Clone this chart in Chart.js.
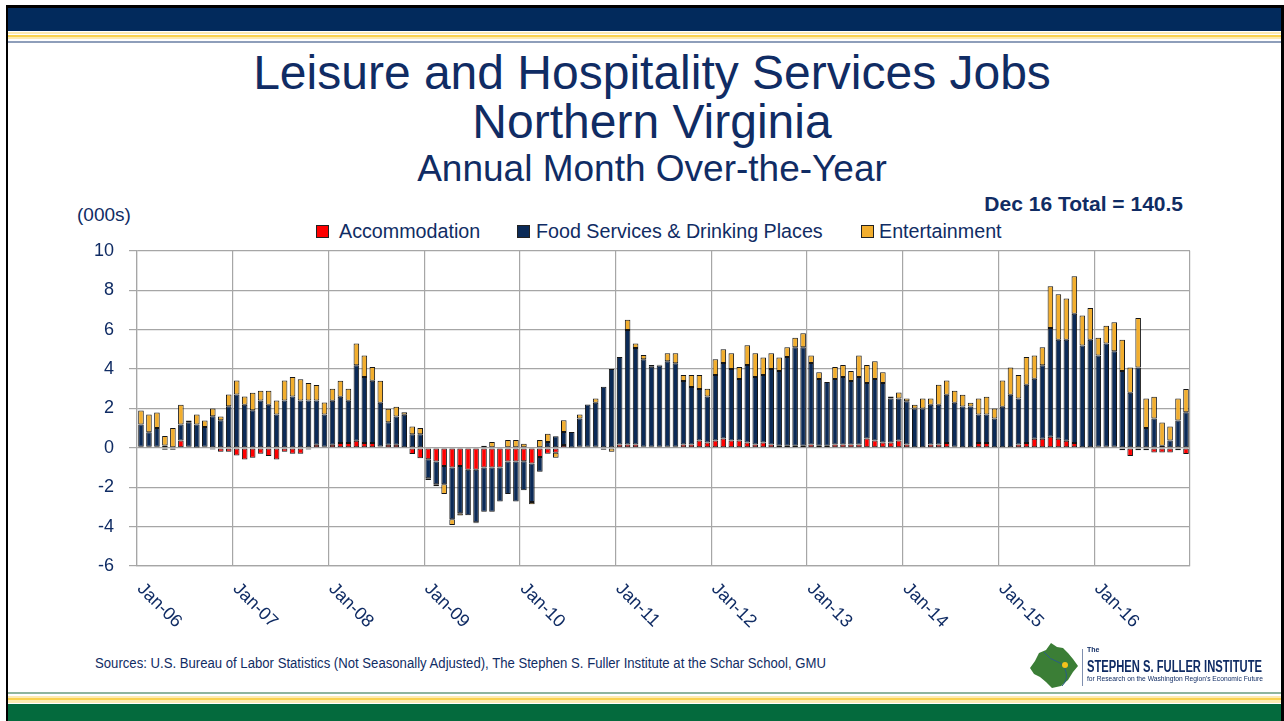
<!DOCTYPE html>
<html>
<head>
<meta charset="utf-8">
<script src="https://cdn.jsdelivr.net/npm/chart.js@4.4.1/dist/chart.umd.min.js"></script>
<style>
  html, body { margin: 0; padding: 0; background: #fff; }
  body { width: 1284px; height: 721px; position: relative; overflow: hidden; font-family: "Liberation Sans", Arial, sans-serif; color: #102C64; }
  .abs { position: absolute; }
  .band { position: absolute; left: 8px; right: 3px; }
  .t { position: absolute; white-space: nowrap; }
  .lg { position: absolute; top: 225px; width: 11px; height: 11px; border: 1px solid #222; }
</style>
</head>
<body>
<!-- frame -->
<div class="abs" style="left:6px;top:5px;width:2px;height:716px;background:#000"></div>
<div class="abs" style="left:6px;top:5px;width:1278px;height:3px;background:#000"></div>
<div class="abs" style="left:1281px;top:5px;width:3px;height:716px;background:#000"></div>
<!-- top band -->
<div class="band" style="top:8px;height:23px;background:#022A5C"></div>
<div class="band" style="top:32px;height:2px;background:#FDEBB2"></div>
<div class="band" style="top:35px;height:2px;background:#F9D24F"></div>
<div class="band" style="top:37px;height:2px;background:#FDEBB2"></div>
<div class="band" style="top:41px;height:2px;background:#8E9EBA"></div>
<!-- bottom band -->
<div class="band" style="top:692px;height:2px;background:#8FB59E"></div>
<div class="band" style="top:696px;height:2px;background:#FDEBB2"></div>
<div class="band" style="top:698px;height:2px;background:#F9D24F"></div>
<div class="band" style="top:700px;height:3px;background:#FDEBB2"></div>
<div class="band" style="top:704px;height:17px;background:#046A3D"></div>

<div class="t" style="left:0;width:1304px;text-align:center;top:49px;font-size:48px;line-height:48px;">Leisure and Hospitality Services Jobs</div>
<div class="t" style="left:0;width:1304px;text-align:center;top:98px;font-size:48px;line-height:48px;">Northern Virginia</div>
<div class="t" style="left:0;width:1304px;text-align:center;top:150px;font-size:37px;line-height:37px;">Annual Month Over-the-Year</div>
<div class="t" style="right:101px;top:193px;font-size:21px;line-height:21px;font-weight:bold;">Dec 16 Total = 140.5</div>
<div class="t" style="left:77px;top:205px;font-size:19px;line-height:19px;">(000s)</div>

<div class="lg" style="left:316px;background:#FF0000"></div>
<div class="t" style="left:339px;top:221px;font-size:19.7px;line-height:20px;">Accommodation</div>
<div class="lg" style="left:517px;background:#0B2A57"></div>
<div class="t" style="left:536px;top:221px;font-size:19.7px;line-height:20px;">Food Services &amp; Drinking Places</div>
<div class="lg" style="left:861px;background:#F2AE2E"></div>
<div class="t" style="left:879px;top:221px;font-size:19.7px;line-height:20px;">Entertainment</div>

<canvas id="c" class="abs" style="left:40px;top:225px;" width="1154" height="425"></canvas>

<div class="t" id="src" style="left:95px;top:656px;font-size:14px;line-height:14px;transform-origin:0 0;">Sources: U.S. Bureau of Labor Statistics (Not Seasonally Adjusted), The Stephen S. Fuller Institute at the Schar School, GMU</div>

<!-- logo -->
<svg class="abs" style="left:0;top:0" width="1284" height="721">
  <polygon points="1030,668 1035,661 1039,653 1046,650 1051,643 1057,647 1063,648 1068,653 1073,659 1078,666 1073,672 1068,680 1061,686 1052,688 1046,682 1040,677 1034,674" fill="#3B7E36"/>
  <path d="M1044,652 Q1050,660 1058,662 Q1064,664 1066,672 Q1068,680 1062,686" stroke="#2A5C86" stroke-width="1" fill="none"/>
  <circle cx="1065" cy="665" r="3" fill="#F3C21C"/>
  <line x1="1082.5" y1="649" x2="1082.5" y2="686" stroke="#7F8FAF" stroke-width="1"/>
</svg>
<div class="t" style="left:1087px;top:646px;font-size:7px;line-height:7px;font-weight:bold;">The</div>
<div class="t" id="lg1" style="left:1087px;top:659px;font-size:16px;line-height:16px;font-weight:bold;transform-origin:0 0;">STEPHEN S. FULLER INSTITUTE</div>
<div class="t" id="lg2" style="left:1087px;top:675px;font-size:8px;line-height:8px;transform-origin:0 0;">for Research on the Washington Region's Economic Future</div>

<script>
// ---- data ----
const years = ['06','07','08','09','10','11','12','13','14','15','16'];
const monthNames = ['Jan','Feb','Mar','Apr','May','Jun','Jul','Aug','Sep','Oct','Nov','Dec'];
const categories = [];
years.forEach(y => monthNames.forEach(m => categories.push(m + '-' + y)));

const accommodation = [
  0.05, 0.05, 0.05, -0.1, 0, 0.37, 0.05, 0.02, 0.05, -0.08, -0.2, -0.2,
  -0.39, -0.6, -0.5, -0.3, -0.42, -0.6, -0.2, -0.3, -0.3, -0.08, 0.15, 0.05,
  0.15, 0.24, 0.24, 0.36, 0.24, 0.24, 0.07, 0.15, 0.15, 0.03, -0.32, -0.53,
  -0.58, -0.7, -0.92, -1.0, -0.92, -1.12, -1.12, -1.0, -1.0, -1.0, -0.7, -0.7,
  -0.68, -0.8, -0.47, -0.3, -0.25, 0.14, 0.02, 0.05, 0.05, 0.05, 0, 0,
  0.17, 0.17, 0.17, 0.05, 0.05, 0.05, 0.05, 0.05, 0.17, 0.17, 0.37, 0.27,
  0.37, 0.47, 0.37, 0.37, 0.27, 0.17, 0.27, 0.17, 0.1, 0.1, 0.1, 0.1,
  0.17, 0.1, 0.1, 0.17, 0.17, 0.17, 0.17, 0.47, 0.37, 0.27, 0.27, 0.37,
  0.17, 0.03, 0.03, 0.17, 0.17, 0.25, 0.05, 0.03, 0.03, 0.25, 0.25, 0.03,
  0.03, 0.03, 0.17, 0.25, 0.46, 0.46, 0.56, 0.46, 0.36, 0.25, 0.03, 0.03,
  0.05, 0.05, 0.05, -0.12, -0.41, -0.12, -0.12, -0.24, -0.24, -0.24, -0.12, -0.32
];
const foodServices = [
  1.13, 0.74, 0.95, 0.12, -0.1, 0.81, 1.25, 1.16, 1.01, 1.6, 1.4, 2.11,
  2.7, 2.19, 1.9, 2.4, 2.19, 1.69, 2.4, 2.6, 2.4, 2.4, 2.25, 1.64,
  2.24, 2.35, 2.15, 3.83, 3.35, 3.16, 2.22, 1.15, 1.44, 1.65, 0.69, 0.69,
  -0.96, -1.15, -0.93, -2.63, -2.4, -2.3, -2.66, -2.24, -2.24, -1.73, -1.64, -2.03,
  -1.47, -1.95, -0.75, 0.29, 0.59, 0.66, 0.78, 1.44, 2.15, 2.24, 3.1, 4.0,
  4.44, 5.81, 4.9, 4.44, 4.07, 4.13, 4.34, 4.24, 3.22, 2.91, 2.61, 2.34,
  3.32, 3.83, 3.63, 3.12, 3.93, 3.42, 3.42, 3.83, 3.8, 4.51, 5.0, 5.0,
  4.13, 3.39, 3.24, 3.32, 3.42, 3.22, 3.42, 2.82, 3.12, 3.02, 2.23, 2.13,
  2.19, 1.97, 1.97, 2.02, 2.02, 2.44, 2.24, 2.07, 2.07, 1.44, 1.44, 1.46,
  2.05, 2.66, 2.33, 2.95, 3.05, 3.73, 5.52, 5.03, 5.13, 6.56, 5.16, 5.46,
  4.63, 5.25, 4.85, 3.9, 2.8, 4.08, 1.0, 1.49, 0.1, 0.37, 1.39, 1.8
];
const entertainment = [
  0.71, 0.9, 0.79, 0.48, 1.0, 1.01, 0.08, 0.51, 0.32, 0.4, 0.19, 0.59,
  0.71, 0.41, 0.9, 0.5, 0.71, 0.71, 1.01, 1.0, 1.08, 0.89, 0.79, 0.61,
  0.61, 0.81, 0.61, 1.1, 1.1, 0.7, 1.11, 0.68, 0.49, 0.12, 0.39, 0.31,
  -0.1, -0.1, -0.49, -0.29, -0.12, 0, -0.05, 0.1, 0.29, 0, 0.39, 0.39,
  0.2, -0.12, 0.39, 0.42, -0.25, 0.6, 0, 0.2, 0, 0.21, -0.1, -0.2,
  0, 0.52, 0.22, 0.22, 0.08, 0.04, 0.41, 0.51, 0.3, 0.61, 0.71, 0.39,
  0.81, 0.7, 0.8, 0.61, 1.0, 1.21, 0.9, 0.8, 0.69, 0.49, 0.49, 0.71,
  0.39, 0.34, 0, 0.61, 0.61, 0.51, 1.1, 0.91, 0.9, 0.54, 0.11, 0.31,
  0.14, 0.19, 0.5, 0.31, 1.01, 0.72, 0.61, 0.59, 0.19, 0.81, 0.9, 0.51,
  1.33, 1.39, 1.19, 1.41, 1.17, 0.91, 2.12, 2.31, 2.09, 1.9, 1.52, 1.61,
  0.91, 0.89, 1.47, 1.59, 1.28, 2.51, 1.5, 1.1, 1.19, 0.71, 1.11, 1.18
];
const yMin = -6, yMax = 10, yStep = 2;

// ---- styling ----
const TEXT = '#102C64';
const GRID = '#A6A6A6';
const FONT = '"Liberation Sans", Arial, sans-serif';

const xLabelPlugin = {
  id: 'xlabels',
  afterDraw(chart) {
    const xs = chart.scales.x, ctx = chart.ctx;
    ctx.save();
    ctx.font = '18px ' + FONT;
    ctx.fillStyle = TEXT;
    ctx.textAlign = 'left';
    ctx.textBaseline = 'middle';
    categories.forEach((lab, i) => {
      if (i % 12 !== 0) return;
      const x = xs.getPixelForValue(i);
      ctx.save();
      ctx.translate(x - 1, chart.chartArea.bottom + 20);
      ctx.rotate(Math.PI / 4);
      ctx.fillText(lab, 0, 0);
      ctx.restore();
    });
    ctx.restore();
  }
};

function ds(label, data, color) {
  return {
    label, data, backgroundColor: color,
    borderColor: '#151515', borderWidth: 1, borderSkipped: false,
    barPercentage: 0.7, categoryPercentage: 1.0
  };
}

new Chart(document.getElementById('c'), {
  type: 'bar',
  data: {
    labels: categories,
    datasets: [
      ds('Accommodation', accommodation, '#FF0000'),
      ds('Food Services & Drinking Places', foodServices, '#0B2A57'),
      ds('Entertainment', entertainment, '#F2AE2E')
    ]
  },
  options: {
    responsive: false,
    animation: false,
    layout: { padding: { top: 0, right: 4, bottom: 0, left: 0 } },
    plugins: { legend: { display: false }, tooltip: { enabled: false } },
    scales: {
      x: {
        stacked: true,
        offset: true,
        ticks: { display: false, autoSkip: false },
        grid: {
          offset: true,
          drawTicks: false,
          lineWidth: 1.2,
          color: (c) => (c.index === undefined || c.index % 12 === 0) ? GRID : 'rgba(0,0,0,0)'
        },
        border: { display: true, color: GRID, width: 1.2 },
        afterFit: (s) => { s.height = 84; }
      },
      y: {
        stacked: true,
        min: yMin, max: yMax,
        ticks: { stepSize: yStep, color: TEXT, font: { family: FONT, size: 18 }, padding: 15,
                 callback: (v) => String(v) },
        grid: { color: GRID, lineWidth: 1.2, tickLength: 8 },
        border: { display: true, color: GRID, width: 1.2 },
        afterFit: (s) => { s.width = 97; }
      }
    }
  },
  plugins: [xLabelPlugin]
});

// fit narrow texts
function fitWidth(id, w) {
  const el = document.getElementById(id);
  const cur = el.getBoundingClientRect().width;
  if (cur > 0) el.style.transform = 'scaleX(' + (w / cur) + ')';
}
fitWidth('src', 731);
fitWidth('lg1', 175);
fitWidth('lg2', 176);
</script>
</body>
</html>
